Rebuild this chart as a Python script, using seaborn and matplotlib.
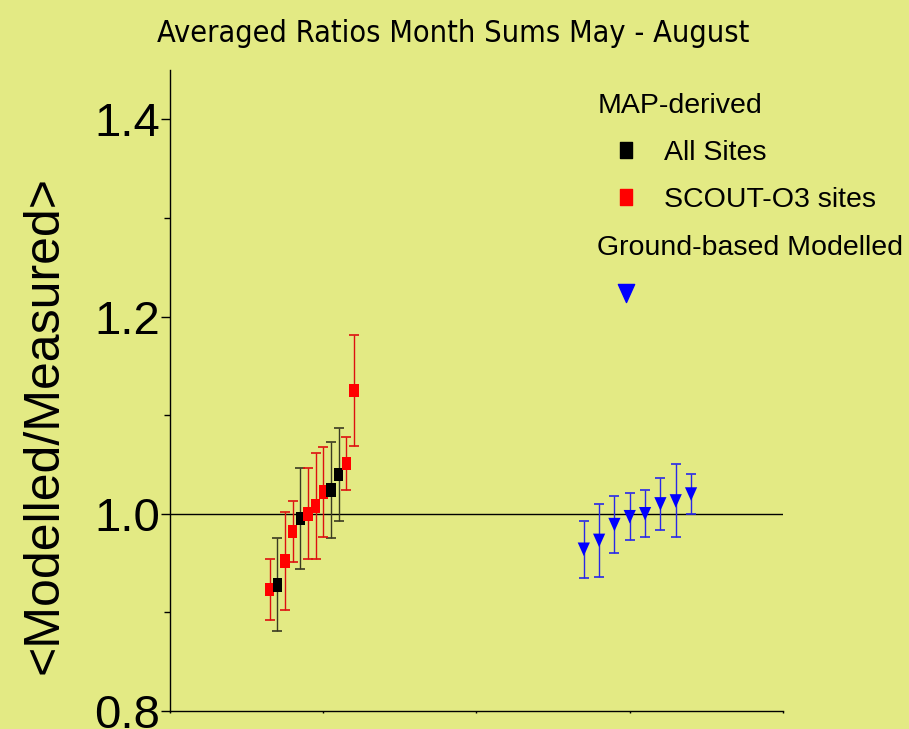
import numpy as np
import pandas as pd
import matplotlib
matplotlib.use("Agg")
import matplotlib.pyplot as plt
from matplotlib.path import Path
from matplotlib.lines import Line2D
from matplotlib.font_manager import FontProperties
import seaborn as sns

# MAP-derived averaged ratios (May - August month sums)
map_x = [0.65, 0.70, 0.75, 0.80, 0.85, 0.90, 0.95, 1.00, 1.05, 1.10, 1.15, 1.20]
map_group = ["SCOUT-O3 sites", "All Sites", "SCOUT-O3 sites", "SCOUT-O3 sites",
             "All Sites", "SCOUT-O3 sites", "SCOUT-O3 sites", "SCOUT-O3 sites",
             "All Sites", "All Sites", "SCOUT-O3 sites", "SCOUT-O3 sites"]
map_ratio = [0.923, 0.928, 0.952, 0.982, 0.995, 1.000, 1.008, 1.022, 1.024, 1.040, 1.051, 1.125]
map_err = [0.031, 0.047, 0.050, 0.031, 0.051, 0.046, 0.054, 0.046, 0.049, 0.047, 0.027, 0.056]

# Ground-based modelled ratios
ground_x = [2.7, 2.8, 2.9, 3.0, 3.1, 3.2, 3.3, 3.4]
ground_ratio = [0.964, 0.973, 0.989, 0.997, 1.000, 1.010, 1.013, 1.020]
ground_err = [0.029, 0.037, 0.029, 0.024, 0.024, 0.026, 0.037, 0.020]

title = "Averaged Ratios Month Sums May - August"
ylabel = "<Modelled/Measured>"
y_ticks = [0.8, 1.0, 1.2, 1.4]
y_minor = [0.9, 1.1, 1.3]
x_ticks = [0, 1, 2, 3, 4]

BG = "#E3EA84"
colors = {"All Sites": "#000000", "SCOUT-O3 sites": "#FF0000", "Ground-based Modelled": "#0000FF"}
bar_colors = {"All Sites": "#3A3A22", "SCOUT-O3 sites": "#DD1010", "Ground-based Modelled": "#2828E8"}

# Tall rectangle and a downward triangle as marker shapes
rect = Path([(-0.345, -0.5), (0.345, -0.5), (0.345, 0.5), (-0.345, 0.5), (-0.345, -0.5)],
            [Path.MOVETO, Path.LINETO, Path.LINETO, Path.LINETO, Path.CLOSEPOLY])
tri = Path([(0.0, -0.5), (-0.45, 0.5), (0.45, 0.5), (0.0, -0.5)],
           [Path.MOVETO, Path.LINETO, Path.LINETO, Path.CLOSEPOLY])

sns.set_theme(style="ticks")
plt.rcParams["font.family"] = ["Liberation Sans", "DejaVu Sans"]
plt.rcParams["text.color"] = "black"
plt.rcParams["axes.labelcolor"] = "black"
plt.rcParams["ytick.color"] = "black"
plt.rcParams["xtick.color"] = "black"

narrow = FontProperties(family="DejaVu Sans", stretch="condensed", size=22)

df = pd.DataFrame({
    "x": map_x + ground_x,
    "ratio": map_ratio + ground_ratio,
    "err": map_err + ground_err,
    "group": map_group + ["Ground-based Modelled"] * len(ground_x),
})

fig = plt.figure(figsize=(9.09, 7.29), dpi=100, facecolor=BG)
ax = fig.add_axes([0.187, 0.0247, 0.6744, 0.8793], facecolor=BG)

ax.axhline(1.0, color="black", lw=1.0, zorder=1)

for g, sub in df.groupby("group"):
    ax.errorbar(sub["x"], sub["ratio"], yerr=sub["err"], fmt="none",
                ecolor=bar_colors[g], elinewidth=1.0, capsize=3.4, capthick=1.2, zorder=2)

sns.scatterplot(data=df, x="x", y="ratio", hue="group", style="group",
                palette=colors,
                markers={"All Sites": rect, "SCOUT-O3 sites": rect, "Ground-based Modelled": tri},
                s=95, linewidth=0, legend=False, ax=ax, zorder=3)

ax.set_xlim(0, 4)
ax.set_ylim(0.8, 1.45)
ax.set_xticks(x_ticks)
ax.set_xticklabels([])
ax.set_yticks(y_ticks)
ax.set_yticklabels([f"{v:.1f}" for v in y_ticks])
ax.set_yticks(y_minor, minor=True)
ax.tick_params(axis="y", which="major", direction="out", length=6.5, width=1.0,
               pad=0.5, labelsize=34)
ax.tick_params(axis="y", which="minor", direction="out", length=4.5, width=1.0)
ax.tick_params(axis="x", which="major", direction="out", length=1.5, width=1.0)
ax.set_xlabel("")
ax.set_ylabel(ylabel, fontsize=36)
ax.yaxis.set_label_coords(-0.2055, 0.446)
ax.yaxis.label.set_verticalalignment("center")

for side in ("top", "right"):
    ax.spines[side].set_visible(False)
for side in ("left", "bottom"):
    ax.spines[side].set_linewidth(1.0)
    ax.spines[side].set_color("black")

fig.text(0.499, 0.9428, title, ha="center", va="baseline", fontproperties=narrow)

# Legend: MAP-derived group
h_map = [Line2D([], [], marker=rect, color=colors[k], markersize=11.5, linestyle="none")
         for k in ("All Sites", "SCOUT-O3 sites")]
leg1 = fig.legend(h_map, ["All Sites", "SCOUT-O3 sites"], title="MAP-derived",
                  loc="upper left", bbox_to_anchor=(0.657, 0.872), frameon=False,
                  fontsize=20.5, title_fontsize=20.5, alignment="left",
                  handlelength=2.0, handletextpad=0.35, labelspacing=0.74,
                  borderpad=0, borderaxespad=0)

# Legend: ground-based group
h_gr = [Line2D([], [], marker=tri, color=colors["Ground-based Modelled"], markersize=13,
               linestyle="none")]
leg2 = fig.legend(h_gr, [""], title="Ground-based Modelled",
                  loc="upper left", bbox_to_anchor=(0.657, 0.677), frameon=False,
                  fontsize=20.5, title_fontsize=20.5, alignment="left",
                  handlelength=2.0, handletextpad=0.35, labelspacing=0.74,
                  borderpad=0, borderaxespad=0)

fig.savefig("out.png", dpi=100, facecolor=BG)
